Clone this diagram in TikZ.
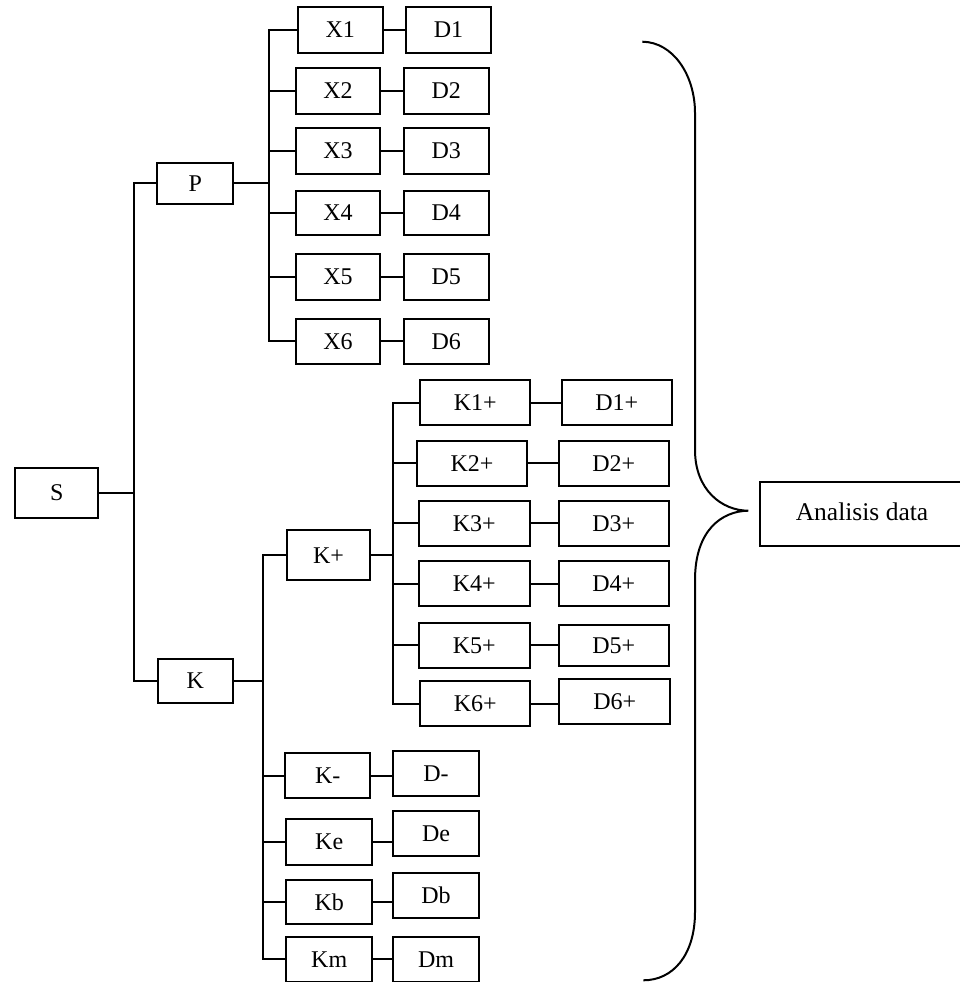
\documentclass[tikz,border=0pt]{standalone}
\usepackage{fontspec}
\setmainfont{Liberation Serif}
\begin{document}
\begin{tikzpicture}[x=1pt,y=-1pt,
  bx/.style={draw, line width=2pt, inner sep=0pt, font=\fontsize{24}{27}\selectfont},
  ln/.style={line width=2pt},
  brace/.style={line width=2pt}]
\useasboundingbox (0,0) rectangle (960,982);
\newcommand\bx[6]{\node[bx, minimum width=#4pt, minimum height=#5pt] (#1) at (#2,#3) {#6};}
% root and level 1
\bx{S}{56.7}{492.5}{83.3}{50}{S}
\bx{P}{195.2}{183.2}{76.3}{41}{P}
\bx{K}{195.3}{681}{75.4}{44}{K}
% P branch
\bx{X1}{340.2}{30}{85}{45.4}{X1}
\bx{D1}{448.5}{30}{85}{45.4}{D1}
\bx{X2}{338}{91}{84.6}{45.4}{X2}
\bx{D2}{446.3}{91}{85.3}{45.4}{D2}
\bx{X3}{338}{151}{84.6}{46}{X3}
\bx{D3}{446.3}{151}{85.3}{46}{D3}
\bx{X4}{338}{213}{84.6}{44.6}{X4}
\bx{D4}{446.3}{213}{85.3}{44.6}{D4}
\bx{X5}{338}{276.8}{84.6}{45.7}{X5}
\bx{D5}{446.3}{276.8}{85.3}{45.7}{D5}
\bx{X6}{338}{341.3}{84.6}{45.3}{X6}
\bx{D6}{446.3}{341.3}{85.3}{45.3}{D6}
% K branch
\bx{kp}{328.5}{555.3}{83}{50}{K+}
\bx{k1}{475.2}{402.7}{110.4}{45.3}{K1+}
\bx{d1}{616.8}{402.7}{110.3}{45.3}{D1+}
\bx{k2}{472}{463.3}{110}{45.3}{K2+}
\bx{d2}{613.8}{463.3}{110.5}{45.3}{D2+}
\bx{k3}{474.3}{523.3}{110.5}{45.3}{K3+}
\bx{d3}{613.8}{523.3}{110.5}{45.3}{D3+}
\bx{k4}{474.3}{583.5}{110.5}{45}{K4+}
\bx{d4}{613.8}{583.5}{110.5}{45}{D4+}
\bx{k5}{474.3}{645.3}{110.5}{45.3}{K5+}
\bx{d5}{613.8}{645.5}{110.5}{41}{D5+}
\bx{k6}{475.2}{703.7}{110.4}{45.3}{K6+}
\bx{d6}{614.7}{701.7}{110.6}{45.3}{D6+}
\bx{kmin}{327.7}{775.5}{85.3}{45.6}{K-}
\bx{dmin}{436}{773.3}{85.4}{45.3}{D-}
\bx{ke}{329.2}{841.7}{85.7}{46}{Ke}
\bx{de}{436}{833.3}{85.4}{45.3}{De}
\bx{kbx}{329.2}{902.2}{85.7}{44.3}{Kb}
\bx{dbx}{436}{895.5}{85.4}{44.4}{Db}
\bx{kmx}{329.2}{959.2}{85.7}{45}{Km}
\bx{dmx}{436}{959.2}{85.4}{45}{Dm}
% result
\node[bx, minimum width=204pt, minimum height=64.3pt, font=\fontsize{25.5}{28}\selectfont] (A) at (862,513.8) {\raisebox{4pt}{Analisis data}};
% bus coordinates
\coordinate (sbus) at (134.3,491.7);
\coordinate (pbus) at (269.3,186);
\coordinate (kbus) at (263.4,681);
\coordinate (kpbus) at (393,555.5);
% S connectors
\draw[ln] (S.east) -- (S.east -| sbus);
\draw[ln] (P.west) -| (sbus) |- (K.west);
% P connectors
\draw[ln] (P.east) -- (pbus |- P.east);
\draw[ln] (X1.west) -| (pbus) |- (X6.west);
\foreach \i in {2,3,4,5} \draw[ln] (X\i.west) -- (pbus |- X\i.west);
\foreach \i in {1,...,6} \draw[ln] (X\i.east) -- (D\i.west);
% K connectors
\draw[ln] (K.east) -- (K.east -| kbus);
\draw[ln] (kp.west) -| (kbus) |- (kmx.west);
\foreach \n in {kmin,ke,kbx} \draw[ln] (\n.west) -- (kbus |- \n.west);
\draw[ln] (kmin.east) -- (dmin.west |- kmin.east);
\draw[ln] (ke.east) -- (de.west |- ke.east);
\draw[ln] (kbx.east) -- (dbx.west |- kbx.east);
\draw[ln] (kmx.east) -- (dmx.west);
% K+ connectors
\draw[ln] (kp.east) -- (kp.east -| kpbus);
\draw[ln] (k1.west) -| (kpbus) |- (k6.west);
\foreach \i in {2,3,4,5} \draw[ln] (k\i.west) -- (kpbus |- k\i.west);
\foreach \i in {1,...,6} \draw[ln] (k\i.east) -- (d\i.west |- k\i.east);
% brace
\coordinate (bt) at (642.3,41.7);
\coordinate (bm) at (748.3,510.7);
\coordinate (bb) at (643.3,980.3);
\draw[brace] (bt) .. controls (673,42) and (695,75) .. (695,113)
  -- (695,450) .. controls (695,490) and (722,510.7) .. (bm)
  .. controls (722,511) and (695,530) .. (695,580)
  -- (695,912) .. controls (695,955) and (673,980.3) .. (bb);
\end{tikzpicture}
\end{document}
